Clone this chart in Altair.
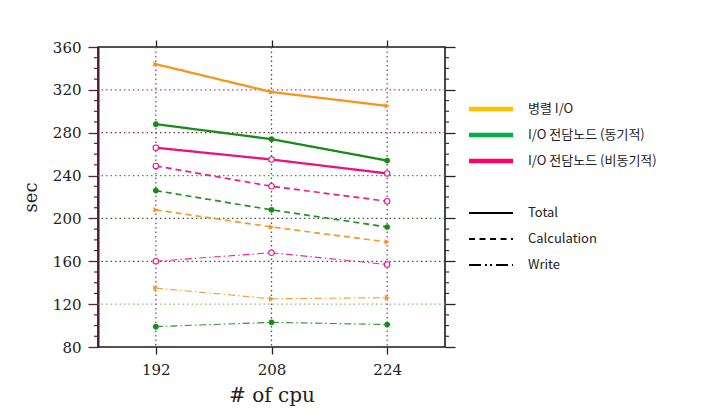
import altair as alt
import pandas as pd

# ---------------- data ----------------
cpu = [192, 208, 224]
groups = ["병렬 I/O", "I/O 전담노드 (동기적)", "I/O 전담노드 (비동기적)"]
kinds = ["Total", "Calculation", "Write"]

parallel_total = [344, 318, 305]
parallel_calc = [208, 192, 178]
parallel_write = [135, 125, 126]
sync_total = [288, 274, 254]
sync_calc = [226, 208, 192]
sync_write = [99, 103, 101]
async_total = [266, 255, 242]
async_calc = [249, 230, 216]
async_write = [160, 168, 157]

y_ticks = [80, 120, 160, 200, 240, 280, 320, 360]
y_minor = [90, 100, 110, 130, 140, 150, 170, 180, 190, 210, 220, 230,
           250, 260, 270, 290, 300, 310, 330, 340, 350]
grid_y = [120, 160, 200, 240, 280, 320]
grid_x = [192, 208, 224]

series = {
    (groups[0], "Total"): parallel_total,
    (groups[0], "Calculation"): parallel_calc,
    (groups[0], "Write"): parallel_write,
    (groups[1], "Total"): sync_total,
    (groups[1], "Calculation"): sync_calc,
    (groups[1], "Write"): sync_write,
    (groups[2], "Total"): async_total,
    (groups[2], "Calculation"): async_calc,
    (groups[2], "Write"): async_write,
}
rows = []
for (g, k), vals in series.items():
    for c, v in zip(cpu, vals):
        rows.append({"group": g, "kind": k, "cpu": c, "sec": v})
df = pd.DataFrame(rows)

# ---------------- styles ----------------
W, H = 347, 300
line_colors = ["#f7941d", "#1a8a1a", "#e8137f"]
legend_colors = ["#ffc000", "#00b050", "#ff0066"]
grid_y_colors = ["#7cc96b", "#4a524a", "#3d5f3d", "#3a9a3a", "#7a2e5e", "#a8409a"]
grid_x_colors = ["#a04078", "#2d6a2d", "#a04078"]
SERIF = "DejaVu Serif"

xs = alt.Scale(domain=[184, 232], nice=False, zero=False)
ys = alt.Scale(domain=[80, 360], nice=False, zero=False)
color_scale = alt.Scale(domain=groups, range=line_colors)
dash_scale = alt.Scale(domain=kinds, range=[[1, 0], [6, 4], [7, 3, 1.5, 3]])
width_scale = alt.Scale(domain=kinds, range=[2.3, 1.1, 1.1])
opacity_scale = alt.Scale(domain=kinds, range=[1.0, 0.9, 0.8])

layers = []
# gridlines
for v, c in zip(grid_y, grid_y_colors):
    layers.append(
        alt.Chart(pd.DataFrame({"gy": [v]})).mark_rule(
            color=c, strokeDash=[1.5, 3], strokeWidth=1.3
        ).encode(y=alt.Y("gy:Q", scale=ys, axis=None))
    )
for v, c in zip(grid_x, grid_x_colors):
    layers.append(
        alt.Chart(pd.DataFrame({"gx": [v]})).mark_rule(
            color=c, strokeDash=[1.5, 3], strokeWidth=1.3
        ).encode(x=alt.X("gx:Q", scale=xs, axis=None))
    )

lines = alt.Chart(df).mark_line().encode(
    x=alt.X("cpu:Q", scale=xs, axis=alt.Axis(
        values=cpu, title="# of cpu", orient="bottom", tickSize=7, domain=False,
        grid=False, labelPadding=8, titlePadding=8, labelFont=SERIF, labelFontSize=15,
        titleFont=SERIF, titleFontSize=20, titleFontWeight="normal",
        labelColor="#222", titleColor="#222", tickColor="#222", tickWidth=1.3)),
    y=alt.Y("sec:Q", scale=ys, axis=alt.Axis(
        values=y_ticks, title="sec", orient="left", tickSize=10, domain=True,
        domainColor="#4a1a38", domainWidth=2, grid=False, labelPadding=7,
        titlePadding=12, labelFont=SERIF, labelFontSize=15, titleFont=SERIF,
        titleFontSize=18, titleFontWeight="normal", labelColor="#222",
        titleColor="#222", tickColor="#5a2040", tickWidth=1.3)),
    color=alt.Color("group:N", scale=color_scale, legend=None),
    strokeDash=alt.StrokeDash("kind:N", scale=dash_scale, legend=None),
    strokeWidth=alt.StrokeWidth("kind:N", scale=width_scale, legend=None),
    opacity=alt.Opacity("kind:N", scale=opacity_scale, legend=None),
    detail="group:N",
)
layers.append(lines)

pts_filled = alt.Chart(df).transform_filter(
    alt.datum.group != groups[2]
).mark_point(filled=True, size=32, opacity=1).encode(
    x=alt.X("cpu:Q", scale=xs, axis=None),
    y=alt.Y("sec:Q", scale=ys, axis=None),
    color=alt.Color("group:N", scale=color_scale, legend=None),
    shape=alt.Shape("group:N", scale=alt.Scale(domain=groups, range=["triangle-right", "circle", "circle"]), legend=None),
)
pts_open = alt.Chart(df).transform_filter(
    alt.datum.group == groups[2]
).mark_point(filled=False, fill="white", size=30, strokeWidth=1.1, opacity=1).encode(
    x=alt.X("cpu:Q", scale=xs, axis=None),
    y=alt.Y("sec:Q", scale=ys, axis=None),
    color=alt.Color("group:N", scale=color_scale, legend=None),
)
layers += [pts_filled, pts_open]

# minor ticks (outward) on left and right
minor_df = pd.DataFrame({"my": y_minor})
layers.append(
    alt.Chart(minor_df).mark_rule(color="#5a2040", strokeWidth=1.2).encode(
        y=alt.Y("my:Q", scale=ys, axis=None), x=alt.value(-4), x2=alt.value(0))
)
layers.append(
    alt.Chart(minor_df).mark_rule(color="#333333", strokeWidth=1.2).encode(
        y=alt.Y("my:Q", scale=ys, axis=None), x=alt.value(W), x2=alt.value(W + 4))
)

# mirrored top / right axes (ticks only)
mirror = alt.Chart(df).mark_point(opacity=0).encode(
    x=alt.X("cpu:Q", scale=xs, axis=alt.Axis(
        orient="top", values=cpu, labels=False, title=None, tickSize=7,
        domain=False, grid=False, tickColor="#222", tickWidth=1.3)),
    y=alt.Y("sec:Q", scale=ys, axis=alt.Axis(
        orient="right", values=y_ticks, labels=False, title=None, tickSize=10,
        domain=False, grid=False, tickColor="#222", tickWidth=1.3)),
)
layers.append(mirror)

main = alt.layer(*layers).resolve_axis(x="independent", y="independent").properties(
    width=W, height=H,
    view=alt.ViewBackground(stroke="#1a1a1a", strokeWidth=1.6),
)

# ---------------- legend ----------------
# blank slots keep the legend rows evenly spaced beside the plot
leg_rows = [" ", "  "] + groups + ["   "] + kinds + ["    ", "     "]
leg_scale = alt.Scale(type="point", domain=leg_rows, padding=0.77, align=0.25)
color_leg = alt.Chart(pd.DataFrame({"label": groups})).mark_rule(strokeWidth=4.6).encode(
    y=alt.Y("label:N", scale=leg_scale, axis=None),
    x=alt.value(0), x2=alt.value(44),
    color=alt.Color("label:N", scale=alt.Scale(domain=groups, range=legend_colors), legend=None),
)
kind_leg = alt.Chart(pd.DataFrame({"label": kinds})).mark_rule(strokeWidth=2.2, color="black").encode(
    y=alt.Y("label:N", scale=leg_scale, axis=None),
    x=alt.value(0), x2=alt.value(44),
    strokeDash=alt.StrokeDash("label:N", scale=alt.Scale(
        domain=kinds, range=[[1, 0], [6, 4.5], [12, 4, 2, 3, 2, 4]]), legend=None),
)
text_leg = alt.Chart(pd.DataFrame({"label": groups + kinds})).mark_text(
    align="left", baseline="middle", font="Noto Sans CJK KR", fontSize=13, color="#222"
).encode(
    y=alt.Y("label:N", scale=leg_scale, axis=None),
    x=alt.value(59),
    text="label:N",
)
legend = alt.layer(color_leg, kind_leg, text_leg).properties(
    width=200, height=H, view=alt.ViewBackground(stroke="transparent")
)

chart = alt.hconcat(main, legend, spacing=24, bounds="flush").resolve_scale(
    color="independent", strokeDash="independent", y="independent", x="independent"
).properties(
    padding={"left": 13, "top": 30, "right": 5, "bottom": 5},
    background="white",
)

chart.save("out.html", embed_options={"renderer": "svg", "actions": False})
